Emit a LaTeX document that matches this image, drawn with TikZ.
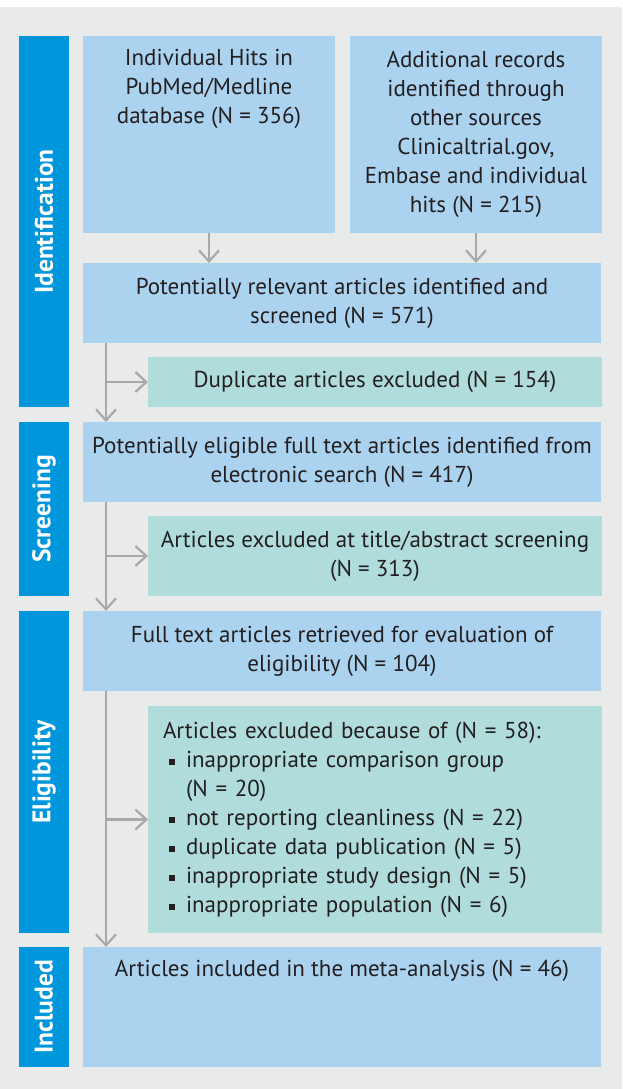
\documentclass[tikz,border=0pt]{standalone}
\usepackage{fontspec}
\setmainfont{PT Sans}
\usetikzlibrary{arrows.meta}
\definecolor{bg}{HTML}{E9EBEB}
\definecolor{barblue}{HTML}{0096DB}
\definecolor{lblue}{HTML}{ABD3F0}
\definecolor{lteal}{HTML}{B0DDDC}
\definecolor{arrgray}{HTML}{A7A9AC}
\definecolor{txtc}{HTML}{231F20}
\newcommand\itm{\makebox[23pt][l]{\hspace{6pt}\rule[2pt]{6pt}{6pt}}}
\tikzset{
  box/.style={anchor=north west, inner sep=0pt, outer sep=0pt, font=\fontsize{23}{29}\selectfont, text=txtc, align=center},
  bluebox/.style={box, fill=lblue},
  tealbox/.style={box, fill=lteal},
  phase/.style={fill=barblue, text=white, inner sep=0pt, outer sep=0pt, minimum height=50pt, rotate=90, font=\fontsize{25.5}{28}\selectfont\bfseries},
  arr/.style={draw=arrgray, line width=2.2pt, -{Straight Barb[length=11pt,width=20pt]}},
  lbl/.style={font=\fontsize{23}{29}\selectfont, text=txtc, inner sep=0pt}
}
\begin{document}
\begin{tikzpicture}[x=1pt,y=-1pt]
\useasboundingbox (0,0) rectangle (622,1089);
\fill[white] (0,0) rectangle (622,1089);
\fill[bg] (0,7) rectangle (622,1089);
% phase bars
\node[phase, minimum width=371pt] (pidf) at (44,221.5) {Identification};
\node[phase, minimum width=174pt] (pscr) at (44,509) {Screening};
\node[phase, minimum width=322pt] (peli) at (44,772) {Eligibility};
\node[phase, minimum width=120pt] (pinc) at (44,1007) {Included};
% boxes
\node[bluebox, minimum width=252pt, minimum height=197pt] (pub) at (83,36)
  {Individual Hits in\\PubMed/Medline\\database (N = 356)\\\strut\\\strut\\\strut};
\node[bluebox, minimum width=252pt, minimum height=197pt] (add) at (350,36)
  {Additional records\\identified through\\other sources\\Clinicaltrial.gov,\\Embase and individual\\hits (N = 215)};
\node[bluebox, minimum width=518pt, minimum height=80pt] (rel) at (83,263)
  {Potentially relevant articles identified and\\screened (N = 571)};
\node[tealbox, minimum width=454pt, minimum height=50pt] (dup) at (148,357)
  {Duplicate articles excluded (N = 154)};
\node[bluebox, minimum width=518pt, minimum height=80pt] (elig) at (83,422)
  {Potentially eligible full text articles identified from\\electronic search (N = 417)};
\node[tealbox, minimum width=454pt, minimum height=80pt] (exa) at (148,516)
  {Articles excluded at title/abstract screening\\(N = 313)};
\node[bluebox, minimum width=518pt, minimum height=80pt] (full) at (83,611)
  {Full text articles retrieved for evaluation of\\eligibility (N = 104)};
\node[tealbox, minimum width=454pt, minimum height=227pt, inner xsep=15pt, text width=424pt, align=left] (exb) at (148,706)
  {Articles excluded because of (N = 58):\\
   \itm inappropriate comparison group\\
   \hspace*{23pt}(N = 20)\\
   \itm not reporting cleanliness (N = 22)\\
   \itm duplicate data publication (N = 5)\\
   \itm inappropriate study design (N = 5)\\
   \itm inappropriate population (N = 6)};
\node[bluebox, minimum width=518pt, minimum height=120pt] (inc) at (83,947) {};
\node[lbl] (inct) at (342,971) {Articles included in the meta-analysis (N = 46)};
% connectors
\draw[arr] (pub.south) -- (pub.south |- rel.north);
\draw[arr] (add.south) -- (add.south |- rel.north);
\coordinate (v1) at ([xshift=23pt]rel.south west);
\draw[arr] (v1) -- (v1 |- elig.north);
\draw[arr] (v1 |- dup.west) -- (dup.west);
\coordinate (v2) at ([xshift=23pt]elig.south west);
\draw[arr] (v2) -- (v2 |- full.north);
\draw[arr] (v2 |- exa.west) -- (exa.west);
\coordinate (v3) at ([xshift=23pt]full.south west);
\draw[arr] (v3) -- (v3 |- inc.north);
\draw[arr] (v3 |- exb.west) -- (exb.west);
\end{tikzpicture}
\end{document}
